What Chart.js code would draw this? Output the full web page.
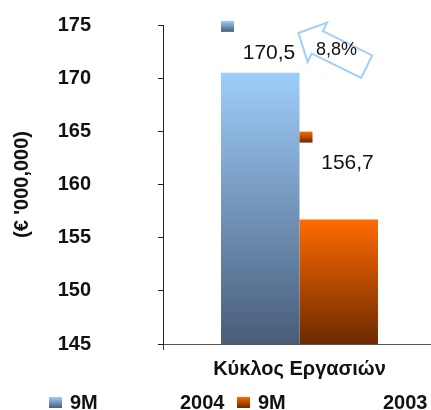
<!DOCTYPE html>
<html>
<head>
<meta charset="utf-8">
<script src="https://cdn.jsdelivr.net/npm/chart.js@4"></script>
<style>
html, body { margin: 0; padding: 0; background: #fff; }
#wrap { width: 431px; height: 410px; }
</style>
</head>
<body>
<div id="wrap"><canvas id="myChart"></canvas></div>
<script>
"use strict"
// Daten
const categories = ['Κύκλος Εργασιών']
const seriesNames = ['9M 2004', '9M 2003']
const values2004 = [170.5]
const values2003 = [156.7]
const valueLabels2004 = ['170,5']
const valueLabels2003 = ['156,7']
const changeLabel = '8,8%'
const yMin = 145
const yMax = 175
const yStep = 5
const yTitle = "(€ '000,000)"

const FONT = "'Liberation Sans', Arial, sans-serif"
const gradColors = [['#9ecdfb', '#485d79'], ['#ff6a00', '#6c2a00']]
const labelLift = [20, 56]     // Abstand Beschriftung über Balken
const legendX = [49, 237]
const legendSecond = [131, 146]
const extendRight = 5          // x-Achse reicht etwas über den Rand hinaus

function barGradient(ctx) {
    const chart = ctx.chart
    const area = chart.chartArea
    const c = gradColors[ctx.datasetIndex]
    if (!area) return c[0]
    const top = chart.scales.y.getPixelForValue(ctx.raw)
    const g = chart.ctx.createLinearGradient(0, top, 0, area.bottom)
    g.addColorStop(0, c[0])
    g.addColorStop(1, c[1])
    return g
}

function smallKey(c, x, y, i) {
    const g = c.createLinearGradient(0, y, 0, y + 11)
    g.addColorStop(0, gradColors[i][0])
    g.addColorStop(1, gradColors[i][1])
    c.fillStyle = g
    c.fillRect(x, y, 13, 11)
}

const extras = {
    id: 'extras',
    afterLayout(chart) {
        const xs = chart.scales.x
        xs.right += extendRight
        xs.width += extendRight
        xs.configure()
        chart.chartArea.right += extendRight
        chart.chartArea.width += extendRight
    },
    afterDraw(chart) {
        const c = chart.ctx
        const yScale = chart.scales.y
        const texts = [valueLabels2004, valueLabels2003]
        c.save()
        // Werte + kleine Schlüssel
        chart.data.datasets.forEach((ds, i) => {
            const el = chart.getDatasetMeta(i).data[0]
            const left = el.x - el.width / 2
            const ly = el.y - labelLift[i]
            smallKey(c, left, ly - 32, i)
            c.fillStyle = '#111'
            c.font = '21px ' + FONT
            c.textAlign = 'center'
            c.textBaseline = 'middle'
            c.fillText(texts[i][0], left + 48, ly)
        })
        // Pfeil mit Veränderung
        const b0 = chart.getDatasetMeta(0).data[0]
        const tipX = b0.x + b0.width / 2 - 1
        const tipY = yScale.getPixelForValue(yMax) + 8
        c.save()
        c.translate(tipX, tipY)
        c.rotate(Math.atan2(33.5, 68))
        c.beginPath()
        c.moveTo(0, 0)
        c.lineTo(21, -22)
        c.lineTo(21, -12.5)
        c.lineTo(76, -12.5)
        c.lineTo(76, 12.5)
        c.lineTo(21, 12.5)
        c.lineTo(21, 22)
        c.closePath()
        c.strokeStyle = '#a3cffb'
        c.lineWidth = 2
        c.stroke()
        c.restore()
        c.fillStyle = '#111'
        c.font = '18px ' + FONT
        c.textAlign = 'center'
        c.textBaseline = 'middle'
        c.fillText(changeLabel, tipX + 38, tipY + 17)
        // Legende
        const ly = chart.height - 7
        seriesNames.forEach((name, i) => {
            const parts = name.split(' ')
            smallKey(c, legendX[i], ly - 6, i)
            c.fillStyle = '#111'
            c.font = 'bold 20px ' + FONT
            c.textAlign = 'left'
            c.fillText(parts[0], legendX[i] + 21, ly)
            c.fillText(parts[1], legendX[i] + legendSecond[i], ly)
        })
        c.restore()
    }
}

const config = {
    type: 'bar',
    data: {
        labels: categories,
        datasets: [
            { label: seriesNames[0], data: values2004, backgroundColor: barGradient },
            { label: seriesNames[1], data: values2003, backgroundColor: barGradient }
        ]
    },
    options: {
        responsive: true,
        maintainAspectRatio: false,
        animation: false,
        layout: { padding: { top: 25, right: 0, bottom: 22, left: 0 } },
        plugins: { legend: { display: false }, tooltip: { enabled: false } },
        datasets: { bar: { barPercentage: 1, categoryPercentage: 0.575 } },
        scales: {
            x: {
                afterFit(scale) {
                    scale.paddingLeft = 0
                    scale.paddingRight = 0
                },
                grid: { display: true, drawOnChartArea: false, drawTicks: true, tickLength: 6, color: '#444', offset: true },
                border: { display: true, color: '#555', width: 1 },
                ticks: { color: '#111', font: { family: FONT, size: 20, weight: 'bold' }, padding: 7, maxRotation: 0 }
            },
            y: {
                min: yMin,
                max: yMax,
                afterFit(scale) {
                    scale.width = 163
                    scale.paddingTop = 0
                    scale.paddingBottom = 0
                },
                grid: { display: true, drawOnChartArea: false, drawTicks: true, tickLength: 5, color: '#222' },
                border: { display: true, color: '#222', width: 1 },
                ticks: { stepSize: yStep, color: '#111', font: { family: FONT, size: 20, weight: 'bold' }, padding: 67 },
                title: { display: true, text: yTitle, color: '#111', font: { family: FONT, size: 20, weight: 'bold' }, padding: { top: 10, bottom: 0 } }
            }
        }
    },
    plugins: [extras]
}

new Chart(document.getElementById('myChart'), config)
</script>
</body>
</html>
